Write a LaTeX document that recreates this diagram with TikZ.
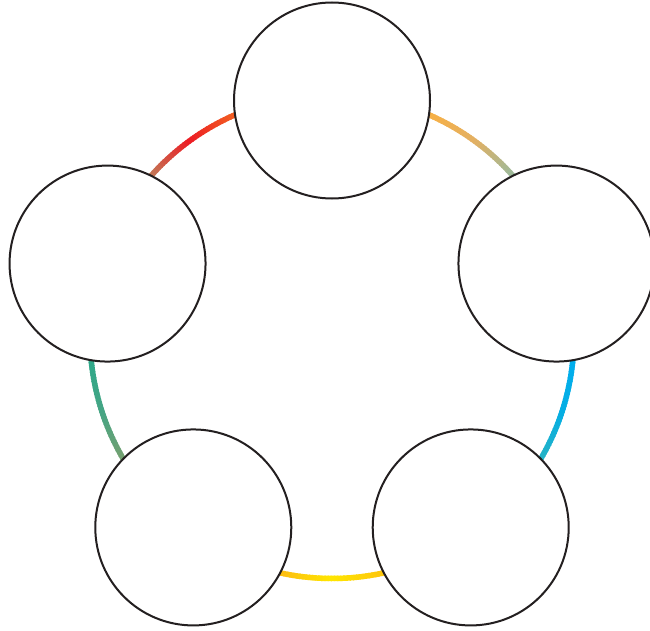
\documentclass[tikz,border=0pt]{standalone}
\definecolor{ringA1}{HTML}{F36B21}
\definecolor{ringA2}{HTML}{ED1C24}
\definecolor{ringA3}{HTML}{B98B62}
\definecolor{ringB1}{HTML}{FBB040}
\definecolor{ringB2}{HTML}{E3B063}
\definecolor{ringB3}{HTML}{8DBCA8}
\definecolor{ringC1}{HTML}{00AEEF}
\definecolor{ringC2}{HTML}{05AEE4}
\definecolor{ringC3}{HTML}{2BB3C0}
\definecolor{ringD1}{HTML}{FDC010}
\definecolor{ringD2}{HTML}{FFE600}
\definecolor{ringD3}{HTML}{FCB415}
\definecolor{ringE1}{HTML}{2AA98B}
\definecolor{ringE2}{HTML}{46A584}
\definecolor{ringE3}{HTML}{7E9F6C}
\definecolor{edgeblack}{HTML}{231F20}
\newcommand\myGradArc[5]{%
  \foreach \i in {0,...,39}{%
    \pgfmathsetmacro\aa{#1+(#2-#1)*\i/40}%
    \pgfmathsetmacro\bb{#1+(#2-#1)*(\i+1.4)/40}%
    \pgfmathtruncatemacro\tt{\i*100/39}%
    \ifnum\tt<50
      \pgfmathtruncatemacro\pp{100-2*\tt}%
      \colorlet{segc}{#3!\pp!#4}%
    \else
      \pgfmathtruncatemacro\pp{2*\tt-100}%
      \colorlet{segc}{#5!\pp!#4}%
    \fi
    \draw[segc, line width=5.5pt, line cap=butt] ([shift={(\aa:242)}]ctr) arc[start angle=\aa, end angle=\bb, radius=242];
  }%
}
\begin{document}
\begin{tikzpicture}[x=1pt,y=1pt,
  bubble/.style={circle, draw=edgeblack, line width=2pt, fill=white, minimum size=196pt, inner sep=0pt}]
\useasboundingbox (0,0) rectangle (650,-631);
\coordinate (ctr) at (332,-336.5);
\myGradArc{111}{141}{ringA1}{ringA2}{ringA3}
\myGradArc{69}{39}{ringB1}{ringB2}{ringB3}
\myGradArc{-3}{-33}{ringC1}{ringC2}{ringC3}
\myGradArc{-75}{-105}{ringD1}{ringD2}{ringD3}
\myGradArc{183}{213}{ringE1}{ringE2}{ringE3}
\node[bubble] (top) at ([shift={(90:236)}]ctr) {};
\node[bubble] (right) at ([shift={(18:236)}]ctr) {};
\node[bubble] (bright) at ([shift={(-54:236)}]ctr) {};
\node[bubble] (bleft) at ([shift={(-126:236)}]ctr) {};
\node[bubble] (left) at ([shift={(162:236)}]ctr) {};
\end{tikzpicture}
\end{document}
